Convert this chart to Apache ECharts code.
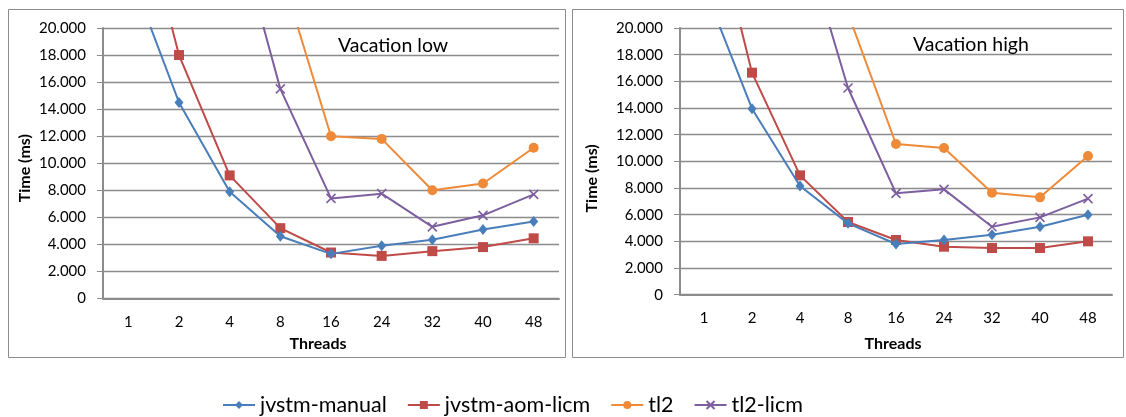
<!DOCTYPE html>
<html>
<head>
<meta charset="utf-8">
<script src="https://cdn.jsdelivr.net/npm/echarts@6/dist/echarts.min.js"></script>
<style>
  html, body { margin: 0; padding: 0; background: #fff; }
  #chart { width: 1126px; height: 417px; }
</style>
</head>
<body>
<div id="chart"></div>
<script>
// thread counts on the x axis
const threads = ['1', '2', '4', '8', '16', '24', '32', '40', '48'];
const seriesNames = ['jvstm-manual', 'jvstm-aom-licm', 'tl2', 'tl2-licm'];

// Vacation low (ms) - values above 20.000 run off the top of the plot
const lowManual  = [24400, 14500, 7900, 4600, 3300, 3900, 4350, 5100, 5700];
const lowAom     = [32500, 18000, 9100, 5200, 3400, 3150, 3500, 3800, 4450];
const lowTl2     = [null, null, 36000, 24300, 12000, 11800, 8000, 8500, 11150];
const lowTl2Licm = [null, null, 29250, 15500, 7400, 7750, 5300, 6150, 7700];

// Vacation high (ms)
const highManual  = [23100, 13950, 8150, 5350, 3800, 4100, 4500, 5100, 6000];
const highAom     = [31250, 16650, 8950, 5450, 4100, 3600, 3500, 3500, 4000];
const highTl2     = [null, null, 33000, 21100, 11300, 11000, 7650, 7300, 10400];
const highTl2Licm = [null, null, 27600, 15500, 7600, 7900, 5100, 5800, 7200];

const font = 'Lato, "Open Sans", sans-serif';
const colors = ['#4A7EBB', '#BE4B48', '#EE8A38', '#7D5FA0'];
const gray = '#8c8c8c';

function fmt(v) {
  if (v === 0) return '0';
  return String(v).replace(/\B(?=(\d{3})+(?!\d))/g, '.');
}

function xAxis(idx, gap, pad) {
  return {
    type: 'category', gridIndex: idx, data: threads, boundaryGap: true,
    name: 'Threads', nameLocation: 'middle', nameGap: gap,
    nameTextStyle: { fontFamily: font, fontSize: 16, fontWeight: 'bold', color: '#000', padding: pad },
    axisLine: { lineStyle: { color: gray, width: 2 } },
    axisTick: { show: false },
    axisLabel: { fontFamily: font, fontSize: 15, color: '#000', margin: 16 },
    splitLine: { show: false }
  };
}

function yAxis(idx, gap, pad) {
  return {
    type: 'value', gridIndex: idx, min: 0, max: 20000, interval: 2000,
    name: 'Time (ms)', nameLocation: 'middle', nameGap: gap, nameRotate: 90,
    nameTextStyle: { fontFamily: font, fontSize: 16, fontWeight: 'bold', color: '#000', padding: pad },
    axisLine: { show: true, lineStyle: { color: gray, width: 2 } },
    axisTick: { show: true, length: 6, lineStyle: { color: gray } },
    axisLabel: { fontFamily: font, fontSize: 15, color: '#000', margin: 17, formatter: fmt },
    splitLine: { lineStyle: { color: gray, width: 1.3 } }
  };
}

const symbols = [
  { symbol: 'diamond', symbolSize: [9, 11] },
  { symbol: 'rect', symbolSize: 10 },
  { symbol: 'circle', symbolSize: 10 },
  { symbol: 'path://M0,0L10,10M10,0L0,10', symbolSize: 9 }
];

function mkSeries(idx, arrays) {
  return arrays.map(function (d, i) {
    const s = {
      name: seriesNames[i], type: 'line', xAxisIndex: idx, yAxisIndex: idx,
      data: d, clip: true, symbol: symbols[i].symbol, symbolSize: symbols[i].symbolSize,
      showAllSymbol: true,
      lineStyle: { color: colors[i], width: 2 },
      itemStyle: { color: colors[i], borderColor: colors[i], borderWidth: 0 },
      emphasis: { disabled: true },
      z: 10 - i
    };
    if (i === 3) s.itemStyle = { color: 'rgba(0,0,0,0)', borderColor: colors[i], borderWidth: 1.6 };
    return s;
  });
}

const chart = echarts.init(document.getElementById('chart'), null, { renderer: 'canvas' });

chart.setOption({
  backgroundColor: '#fff',
  animation: false,
  color: colors,
  title: [
    { text: 'Vacation low', left: 333, top: 31, textStyle: { fontFamily: font, fontSize: 19.5, fontWeight: 'normal', color: '#000' } },
    { text: 'Vacation high', left: 908, top: 30, textStyle: { fontFamily: font, fontSize: 19.5, fontWeight: 'normal', color: '#000' } }
  ],
  graphic: [
    { type: 'rect', shape: { x: 8.5, y: 9.5, width: 557, height: 348 }, style: { fill: 'none', stroke: gray, lineWidth: 1 }, z: -1 },
    { type: 'rect', shape: { x: 572.5, y: 9.5, width: 551, height: 348 }, style: { fill: 'none', stroke: gray, lineWidth: 1 }, z: -1 }
  ],
  legend: {
    top: 389, left: 217,
    itemWidth: 32, itemHeight: 10, itemGap: 20,
    textStyle: { fontFamily: font, fontSize: 21.5, color: '#000' },
    data: [
      { name: 'jvstm-manual', itemStyle: { color: colors[0], borderWidth: 0 } },
      { name: 'jvstm-aom-licm', itemStyle: { color: colors[1], borderWidth: 0 } },
      { name: 'tl2', itemStyle: { color: colors[2], borderWidth: 0 } },
      { name: 'tl2-licm' }
    ]
  },
  grid: [
    { left: 103, right: 567, top: 28, bottom: 118.5 },
    { left: 680, right: 14, top: 28, bottom: 122.3 }
  ],
  xAxis: [xAxis(0, 37, [0, 26, 0, 0]), xAxis(1, 41, [0, 6, 0, 0])],
  yAxis: [yAxis(0, 70, [0, 10, 0, 0]), yAxis(1, 80, [0, 34, 0, 0])],
  series: mkSeries(0, [lowManual, lowAom, lowTl2, lowTl2Licm])
    .concat(mkSeries(1, [highManual, highAom, highTl2, highTl2Licm]))
});
</script>
</body>
</html>
